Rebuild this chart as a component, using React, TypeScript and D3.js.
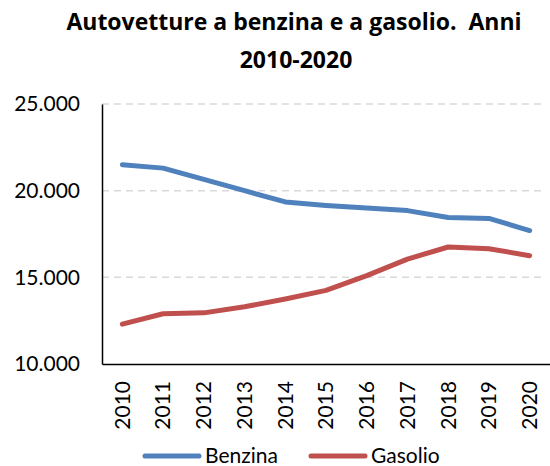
import React, { useRef, useEffect } from 'react';
import * as d3 from 'd3';

const years = ['2010', '2011', '2012', '2013', '2014', '2015', '2016', '2017', '2018', '2019', '2020'];
const benzina = [21500, 21300, 20650, 20000, 19350, 19150, 19000, 18850, 18450, 18400, 17700];
const gasolio = [12300, 12900, 12950, 13300, 13750, 14250, 15100, 16050, 16750, 16650, 16250];
const yTicks = [10000, 15000, 20000, 25000];
const seriesNames = ['Benzina', 'Gasolio'];
const seriesColors = ['#4F81BD', '#C0504D'];

const FONT = 'Lato, "Open Sans", sans-serif';
const TITLE_FONT = '"Open Sans", Lato, sans-serif';

const LineChart = () => {
  const ref = useRef<SVGSVGElement | null>(null);

  useEffect(() => {
    if (!ref.current) return;
    const svg = d3.select(ref.current);
    svg.selectAll('*').remove();

    const width = 550;
    const height = 466;
    const margin = { top: 104, right: 0, bottom: 102, left: 102 };
    const innerW = width - margin.left - margin.right;
    const innerH = height - margin.top - margin.bottom;

    svg.append('rect').attr('width', width).attr('height', height).attr('fill', '#fff');

    // title
    const title = svg.append('text')
      .attr('text-anchor', 'middle')
      .attr('font-family', TITLE_FONT)
      .attr('font-weight', 'bold')
      .attr('font-size', 23)
      .attr('fill', '#000');
    title.append('tspan').attr('x', 294).attr('y', 30).text('Autovetture a benzina e a gasolio.  Anni').attr('xml:space', 'preserve');
    title.append('tspan').attr('x', 296).attr('y', 68).text('2010-2020');

    const g = svg.append('g').attr('transform', `translate(${margin.left},${margin.top})`);

    const x = d3.scaleBand().domain(years).range([0, innerW]);
    const y = d3.scaleLinear().domain([10000, 25000]).range([innerH, 0]);

    // grid lines
    g.selectAll('.grid')
      .data(yTicks.filter(t => t > 10000))
      .join('line')
      .attr('x1', 0)
      .attr('x2', innerW - 4)
      .attr('y1', d => y(d))
      .attr('y2', d => y(d))
      .attr('stroke', '#D9D9D9')
      .attr('stroke-width', 1.5)
      .attr('stroke-dasharray', '7,5');

    // y axis
    const yAxis = g.append('g')
      .call(d3.axisLeft(y).tickValues(yTicks).tickSize(0).tickPadding(22)
        .tickFormat(d => d3.format(',')(d as number).replace(/,/g, '.')));
    yAxis.select('.domain').attr('stroke', '#000').attr('stroke-width', 1.5);
    yAxis.selectAll('text')
      .attr('font-family', FONT)
      .attr('font-size', 21)
      .attr('fill', '#000');

    // x axis
    const xAxis = g.append('g')
      .attr('transform', `translate(0,${innerH})`)
      .call(d3.axisBottom(x).tickSize(0).tickPadding(0));
    xAxis.select('.domain').attr('stroke', '#000').attr('stroke-width', 1.5);
    xAxis.selectAll('text')
      .attr('font-family', FONT)
      .attr('font-size', 21)
      .attr('fill', '#000')
      .attr('transform', 'rotate(-90)')
      .attr('text-anchor', 'end')
      .attr('dy', '0.35em')
      .attr('x', -17)
      .attr('y', 0);

    // lines
    const line = d3.line<number>()
      .x((_, i) => (x(years[i]) as number) + x.bandwidth() / 2)
      .y(d => y(d));

    [benzina, gasolio].forEach((s, i) => {
      g.append('path')
        .datum(s)
        .attr('d', line)
        .attr('fill', 'none')
        .attr('stroke', seriesColors[i])
        .attr('stroke-width', 5)
        .attr('stroke-linecap', 'round')
        .attr('stroke-linejoin', 'round');
    });

    // legend
    const legendX = [145, 311];
    const legend = svg.append('g');
    seriesNames.forEach((name, i) => {
      legend.append('line')
        .attr('x1', legendX[i])
        .attr('x2', legendX[i] + 54)
        .attr('y1', 456)
        .attr('y2', 456)
        .attr('stroke', seriesColors[i])
        .attr('stroke-width', 5)
        .attr('stroke-linecap', 'round');
      legend.append('text')
        .attr('x', legendX[i] + 60)
        .attr('y', 463)
        .attr('font-family', FONT)
        .attr('font-size', 21)
        .attr('fill', '#000')
        .text(name);
    });
  }, []);

  return <svg ref={ref} width={550} height={466} style={{ display: 'block' }} />;
};

export default function App() {
  return (
    <div style={{ position: 'absolute', left: 0, top: 0 }}>
      <LineChart />
    </div>
  );
}
